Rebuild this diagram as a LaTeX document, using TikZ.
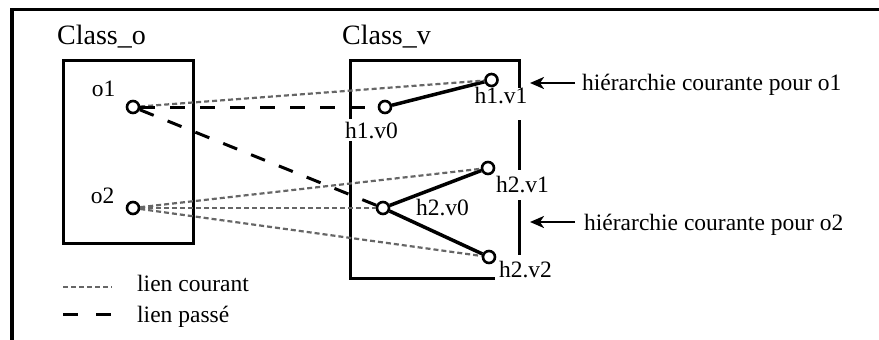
\documentclass[tikz,border=0pt]{standalone}
\usepackage{fontspec}
\setmainfont{Liberation Serif}
\usetikzlibrary{arrows.meta}
\begin{document}
\begin{tikzpicture}[x=1pt,y=-1pt,
  vert/.style={circle,draw,line width=2.6pt,minimum size=12pt,inner sep=0pt,fill=white},
  lbl/.style={font=\fontsize{23.5}{26}\selectfont,inner sep=0pt,anchor=base},
  cls/.style={font=\fontsize{28}{32}\selectfont,inner sep=0pt,anchor=base},
  courant/.style={draw=black!60,line width=2.2pt,dash pattern=on 5pt off 3pt},
  passe/.style={draw=black,line width=3pt,dash pattern=on 15pt off 15pt},
  hier/.style={draw=black,line width=3.5pt},
  boxline/.style={draw=black,line width=3pt},
  arr/.style={draw=black,line width=2.4pt,-{Stealth[length=14pt,width=12pt,inset=4pt]}}
]
\useasboundingbox (0,0) rectangle (879,340);
% outer frame
\draw[line width=3.6pt] (12,341) -- (12,9.5) -- (880,9.5);
% boxes
\draw[boxline] (63,60) rectangle (193,243);
\draw[boxline] (350,278) -- (350,60) -- (519,60) -- (519,88);
\draw[boxline] (519,120) -- (519,170);
\draw[boxline] (519,200) -- (519,255);
\draw[boxline] (349,278) -- (495,278);
% class labels
\node[cls] (co) at (101.5,45) {Class\_o};
\node[cls] (cv) at (386.5,45) {Class\_v};
% vertices
\node[vert] (o1) at (133,107) {};
\node[vert] (o2) at (133,208) {};
\node[vert] (h1v0) at (385,107) {};
\node[vert] (h1v1) at (491.5,80) {};
\node[vert] (h2v1) at (488,168) {};
\node[vert] (h2v0) at (383,208) {};
\node[vert] (h2v2) at (489,257) {};
% vertex labels
\node[lbl] (lo1) at (103.5,96.7) {o1};
\node[lbl] (lo2) at (102.5,203) {o2};
\node[lbl,fill=white,inner sep=3pt] (lh1v0) at (371.5,138) {h1.v0};
\node[lbl] (lh1v1) at (501,103) {h1.v1};
\node[lbl] (lh2v1) at (522.5,192) {h2.v1};
\node[lbl] (lh2v0) at (442.5,215) {h2.v0};
\node[lbl] (lh2v2) at (525.5,277) {h2.v2};
% hierarchy edges
\draw[hier] (h1v0) -- (h1v1);
\draw[hier] (h2v0) -- (h2v1);
\draw[hier] (h2v0) -- (h2v2);
% links
\draw[courant] (o1) -- (h1v1);
\draw[courant] (o2) -- (h2v1);
\draw[courant] (o2) -- (h2v0);
\draw[courant] (o2) -- (h2v2);
\draw[passe] (o1) -- (h1v0);
\draw[passe] (o1) -- (h2v0);
% annotations
\node[lbl,anchor=base west] (t1) at (582,90) {hiérarchie courante pour o1};
\node[lbl,anchor=base west] (t2) at (584,230) {hiérarchie courante pour o2};
\coordinate (a1s) at (575,83);
\coordinate (a1e) at (530,83);
\coordinate (a2s) at (575,222);
\coordinate (a2e) at (530,222);
\draw[arr] (a1s) -- (a1e);
\draw[arr] (a2s) -- (a2e);
% legend
\coordinate (lc1) at (63,287);
\coordinate (lc2) at (112,287);
\coordinate (lp1) at (63,314);
\coordinate (lp2) at (112,314);
\draw[courant] (lc1) -- (lc2);
\draw[passe,dash pattern=on 15pt off 18pt] (lp1) -- (lp2);
\node[lbl,anchor=base west] (llc) at (137,291) {lien courant};
\node[lbl,anchor=base west] (llp) at (137,322) {lien passé};
\end{tikzpicture}
\end{document}
